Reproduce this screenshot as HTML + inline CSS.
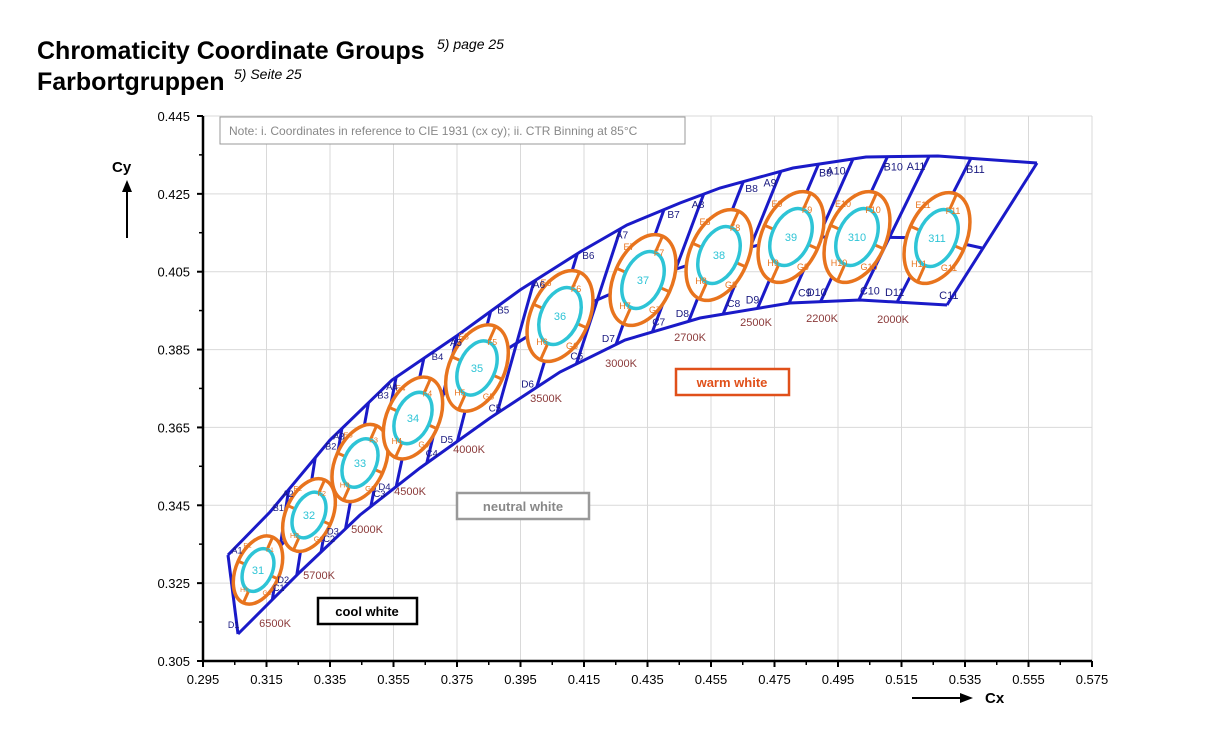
<!DOCTYPE html>
<html><head><meta charset="utf-8"><style>
body{margin:0;background:#fff;width:1222px;height:734px;overflow:hidden;font-family:"Liberation Sans",Arial,sans-serif}
</style></head><body>
<svg id="s" width="1222" height="734" xmlns="http://www.w3.org/2000/svg" font-family="Liberation Sans, Arial, sans-serif">
<text x="37" y="59" font-size="25" font-weight="bold">Chromaticity Coordinate Groups</text>
<text x="437" y="49" font-size="14" font-style="italic">5) page 25</text>
<text x="37" y="90" font-size="25" font-weight="bold">Farbortgruppen</text>
<text x="234" y="79" font-size="14" font-style="italic">5) Seite 25</text>
<g id="grid" stroke="#d9d9d9" stroke-width="1"></g>
<g id="ax"></g>
<rect x="220" y="117" width="465" height="27" fill="#fff" stroke="#999"/>
<text x="229" y="135" font-size="12" fill="#888">Note: i. Coordinates in reference to CIE 1931 (cx cy); ii. CTR Binning at 85°C</text>
<g id="plot"></g>
<rect x="457" y="493" width="132" height="26" fill="#fff" stroke="#999" stroke-width="2.5"/>
<text x="523" y="511" font-size="13" font-weight="bold" fill="#888" text-anchor="middle">neutral white</text>
<rect x="318" y="598" width="99" height="26" fill="#fff" stroke="#000" stroke-width="2.5"/>
<text x="367" y="616" font-size="13" font-weight="bold" text-anchor="middle">cool white</text>
<rect x="676" y="369" width="113" height="26" fill="#fff" stroke="#e0501a" stroke-width="2.5"/>
<text x="732" y="387" font-size="13" font-weight="bold" fill="#e0501a" text-anchor="middle">warm white</text>
<text x="112" y="172" font-size="15" font-weight="bold">Cy</text>
<line x1="127" y1="238" x2="127" y2="190" stroke="#000" stroke-width="2"/>
<polygon points="122,192 132,192 127,180" fill="#000"/>
<text x="985" y="703" font-size="15" font-weight="bold">Cx</text>
<line x1="912" y1="698" x2="962" y2="698" stroke="#000" stroke-width="2"/>
<polygon points="960,693 960,703 973,698" fill="#000"/>
</svg>
<script>
(function(){
var NS="http://www.w3.org/2000/svg";
function el(p,t,a,txt){var e=document.createElementNS(NS,t);for(var k in a)e.setAttribute(k,a[k]);if(txt!=null)e.textContent=txt;p.appendChild(e);return e;}
var g=document.getElementById('grid'),ax=document.getElementById('ax'),pl=document.getElementById('plot');
function X(v){return 203+(v-0.295)/0.28*889;}
function Y(v){return 661-(v-0.305)/0.14*545;}
for(var i=0;i<=14;i++){var v=0.295+i*0.02,x=X(v);el(g,'line',{x1:x,y1:116,x2:x,y2:661});
el(ax,'text',{x:x,y:684,'font-size':13,'text-anchor':'middle'},v.toFixed(3));
el(ax,'line',{x1:x,y1:661,x2:x,y2:667,stroke:'#000','stroke-width':2});
if(i<14)el(ax,'line',{x1:x+31.75,y1:661,x2:x+31.75,y2:665,stroke:'#000','stroke-width':1.5});}
for(var i=0;i<=7;i++){var v=0.305+i*0.02,y=Y(v);el(g,'line',{x1:203,y1:y,x2:1092,y2:y});
el(ax,'text',{x:190,y:y+5,'font-size':13,'text-anchor':'end'},v.toFixed(3));
el(ax,'line',{x1:197,y1:y,x2:203,y2:y,stroke:'#000','stroke-width':2});
if(i<7)el(ax,'line',{x1:199,y1:y-39,x2:203,y2:y-39,stroke:'#000','stroke-width':1.5});}
el(ax,'line',{x1:203,y1:116,x2:203,y2:662,stroke:'#000','stroke-width':2.5});
el(ax,'line',{x1:202,y1:661,x2:1092,y2:661,stroke:'#000','stroke-width':2.5});
var TP=[[228,555],[270,512],[330,440],[392,380],[458,335],[520,290],[580,252],[627,225],[680,203],[720,188],[793,168],[866,157],[938,156],[1037,163]];
var BT=[[238,634],[300,572],[360,515],[420,468],[490,418],[560,372],[625,340],[700,318],[790,303],[860,300],[947,305]];
function yat(P,x){if(x<=P[0][0])return P[0][1];for(var i=1;i<P.length;i++){if(x<=P[i][0]){var a=P[i-1],b=P[i];return a[1]+(b[1]-a[1])*(x-a[0])/(b[0]-a[0]);}}return P[P.length-1][1];}
var B='#1a1ac8';
function pts(P){return P.map(function(p){return p.join(',');}).join(' ');}
el(pl,'polyline',{points:pts(TP),fill:'none',stroke:B,'stroke-width':3});
el(pl,'polyline',{points:pts(BT),fill:'none',stroke:B,'stroke-width':3});
el(pl,'line',{x1:228,y1:555,x2:238,y2:634,stroke:B,'stroke-width':3});
el(pl,'line',{x1:1037,y1:163,x2:947,y2:305,stroke:B,'stroke-width':3});
var C=[[258,570],[309,515],[360,463],[413,418],[477,368],[560,316],[643,280],[719,255],[791,237],[857,237],[937,238]];
var names=['1','2','3','4','5','6','7','8','9','10','11'];
var cct=[['6500K',275,627],['5700K',319,579],['5000K',367,533],['4500K',410,495],['4000K',469,453],['3500K',546,402],['3000K',621,367],['2700K',690,341],['2500K',756,326],['2200K',822,322],['2000K',893,323]];
function kof(x){return 4+(x-258)/680*30;}
var divx=[];
for(var i=0;i<C.length;i++){divx.push(C[i][0]);if(i<C.length-1)divx.push((C[i][0]+C[i+1][0])/2);}
divx.forEach(function(xc,j){if(j==0)return;var k=kof(xc);var xt=xc+k,xb=xc-k-6;
el(pl,'line',{x1:xt,y1:yat(TP,xt),x2:xb,y2:yat(BT,xb),stroke:B,'stroke-width':3});});
var cl=[[231,585]].concat(C).concat([[982,248]]);
el(pl,'polyline',{points:pts(cl),fill:'none',stroke:B,'stroke-width':3});
C.forEach(function(c,i){var s=0.75+0.25*Math.min(i,5)/5;var cx=c[0],cy=c[1];
var gg=el(pl,'g',{transform:'translate('+cx+','+cy+') rotate(24)'});
var orx=29*s,ory=48*s;
el(gg,'ellipse',{cx:0,cy:0,rx:orx,ry:ory,fill:'#fff',stroke:'#e8741e','stroke-width':3.5});
el(gg,'line',{x1:0,y1:-ory,x2:0,y2:ory,stroke:'#e8741e','stroke-width':3});
el(gg,'line',{x1:-orx,y1:0,x2:orx,y2:0,stroke:'#e8741e','stroke-width':3});
el(gg,'ellipse',{cx:0,cy:0,rx:19*s,ry:30*s,fill:'#fff',stroke:'#2ec4d6','stroke-width':3.5});
el(pl,'text',{x:cx,y:cy+4,'font-size':11,fill:'#2ec4d6','text-anchor':'middle'},'3'+names[i]);
var f=9*s;
el(pl,'text',{x:cx-14*s,y:cy-30*s,'font-size':f,fill:'#e8741e','text-anchor':'middle'},'E'+names[i]);
el(pl,'text',{x:cx+16*s,y:cy-24*s,'font-size':f,fill:'#e8741e','text-anchor':'middle'},'F'+names[i]);
el(pl,'text',{x:cx+12*s,y:cy+33*s,'font-size':f,fill:'#e8741e','text-anchor':'middle'},'G'+names[i]);
el(pl,'text',{x:cx-18*s,y:cy+29*s,'font-size':f,fill:'#e8741e','text-anchor':'middle'},'H'+names[i]);
var k=kof(cx);var fs=9+i*0.2;
var xa=cx-15,xb2=cx+22+k*0.6,xc2=cx+18-k*0.3,xd=cx-22-k*0.6;
el(pl,'text',{x:xa-6,y:yat(TP,xa)+14,'font-size':fs,fill:'#1a1a80','text-anchor':'middle'},'A'+names[i]);
el(pl,'text',{x:xb2-4,y:yat(TP,xb2)+14,'font-size':fs,fill:'#1a1a80','text-anchor':'middle'},'B'+names[i]);
el(pl,'text',{x:xc2+4,y:yat(BT,xc2)-6,'font-size':fs,fill:'#1a1a80','text-anchor':'middle'},'C'+names[i]);
el(pl,'text',{x:xd,y:yat(BT,xd)-6,'font-size':fs,fill:'#1a1a80','text-anchor':'middle'},'D'+names[i]);
});
cct.forEach(function(t){el(pl,'text',{x:t[1],y:t[2],'font-size':11,fill:'#8b3a3a','text-anchor':'middle'},t[0]);});
})();
</script>
</body></html>
